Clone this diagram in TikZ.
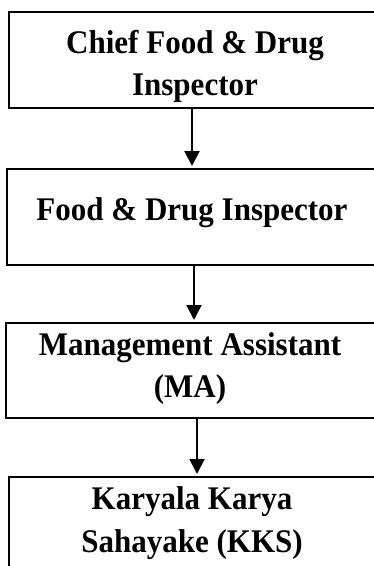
\documentclass[tikz,border=0pt]{standalone}
\usepackage{fontspec}
\usepackage{graphicx}
\setmainfont{Liberation Serif}
\usetikzlibrary{arrows.meta}
% titles are set slightly condensed
\newcommand{\cond}[1]{\scalebox{0.94}[1]{#1}}
\begin{document}
\begin{tikzpicture}[x=1pt,y=-1pt,
  box/.style={draw=black,line width=2pt,rectangle,inner sep=0pt,outer sep=0pt},
  lbl/.style={anchor=base,inner sep=0pt,font=\fontsize{33}{39}\selectfont\bfseries},
  arr/.style={line width=2pt,-{Triangle[width=15pt,length=15pt]},shorten >=3pt}]
  \useasboundingbox (0,0) rectangle (374,566);
  \clip (0,0) rectangle (374,566);

  % boxes of the chain of posts
  \node[box,minimum width=371pt,minimum height=96pt] (b1) at (194.5,60) {};
  \node[box,minimum width=373pt,minimum height=96pt] (b2) at (193.5,217) {};
  \node[box,minimum width=374pt,minimum height=95pt] (b3) at (193,370.5) {};
  \node[box,minimum width=371pt,minimum height=130pt] (b4) at (194.5,542) {};

  % titles
  \node[lbl] (t1a) at (195,53) {\cond{Chief Food \& Drug}};
  \node[lbl] (t1b) at (195,95) {\cond{Inspector}};
  \node[lbl] (t2) at (192,220) {\cond{Food \& Drug Inspector}};
  \node[lbl] (t3a) at (190,355) {\cond{Management Assistant}};
  \node[lbl] (t3b) at (190,397) {\cond{(MA)}};
  \node[lbl] (t4a) at (192,509) {\cond{Karyala Karya}};
  \node[lbl] (t4b) at (192,552) {\cond{Sahayake (KKS)}};

  % reporting arrows
  \draw[arr] (b1.south -| 192,0) -- (b2.north -| 192,0);
  \draw[arr] (b2.south -| 194,0) -- (b3.north -| 194,0);
  \draw[arr] (b3.south -| 197,0) -- (b4.north -| 197,0);
\end{tikzpicture}
\end{document}
